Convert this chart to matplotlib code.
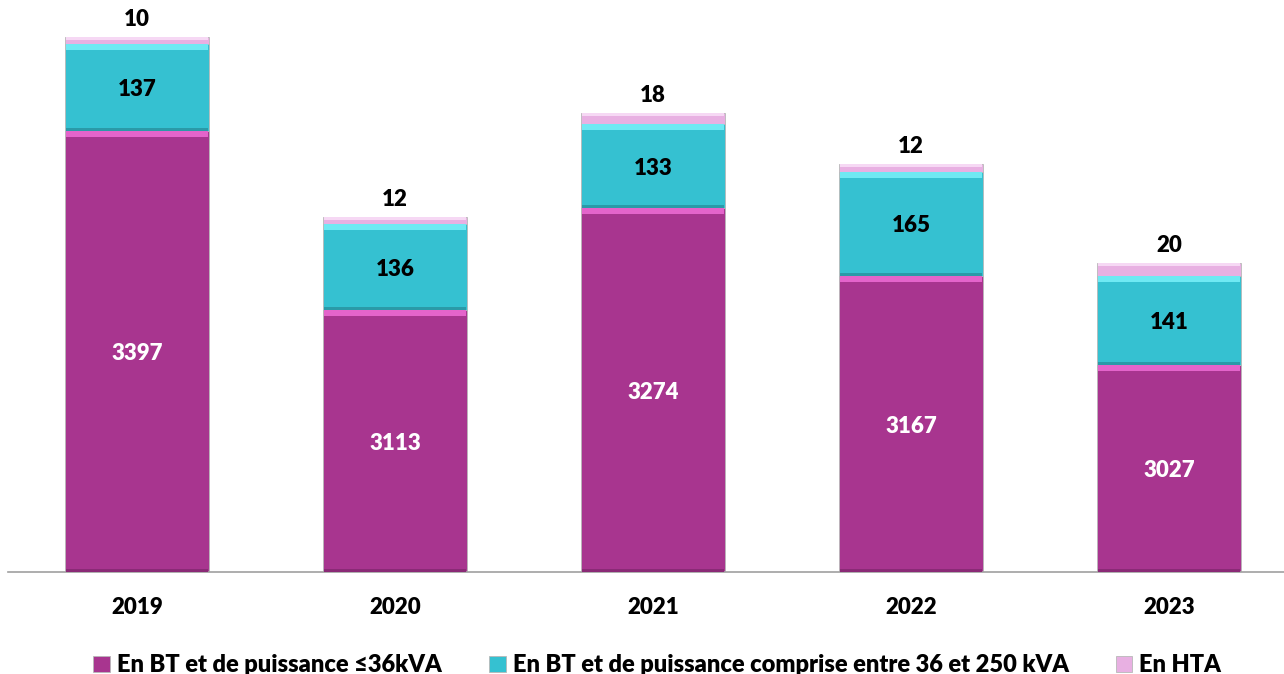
import matplotlib.pyplot as plt
import numpy as np

plt.rcParams['font.family'] = ['Lato', 'DejaVu Sans']
plt.rcParams['font.weight'] = 'heavy'

years = ['2019', '2020', '2021', '2022', '2023']
bt_36 = [3397, 3113, 3274, 3167, 3027]
bt_250 = [137, 136, 133, 165, 141]
hta = [10, 12, 18, 12, 20]

labels = ['En BT et de puissance ≤36kVA',
          'En BT et de puissance comprise entre 36 et 250 kVA',
          'En HTA']
colors = ['#A8358F', '#35C1D1', '#E8B0E2']
light = ['#E464CB', '#6FE9F3', '#F6D8F4']
dark = ['#8A2A76', '#2A9AA8', '#C892C3']

fig = plt.figure(figsize=(12.84, 6.74), dpi=100)
ax = fig.add_axes([8 / 1284, 102 / 674, 1276 / 1284, 570 / 674])

x = np.arange(len(years))
w = 0.56
ymin, ymax = 2700, 3600
px = (ymax - ymin) / 570  # data units per pixel

handles = []
bottoms = np.full(len(years), float(ymin))
for i, vals in enumerate([bt_36, bt_250, hta]):
    vals = np.array(vals, dtype=float)
    base = bottoms.copy()
    if i == 0:
        heights = vals - ymin
        tops = vals.copy()
    else:
        heights = vals
        tops = base + vals
    bars = ax.bar(x, heights, w, bottom=base, color=colors[i], edgecolor='#B8B8B8',
                  linewidth=0.6, label=labels[i], zorder=2)
    handles.append(bars)
    # bevel: light strip on top, dark strip at bottom
    hi = 3 * px if i == 2 else 6 * px
    ax.bar(x, [hi] * len(x), w * 0.985, bottom=tops - hi, color=light[i],
           linewidth=0, zorder=3)
    if i < 2:
        ax.bar(x, [3 * px] * len(x), w * 0.985, bottom=base, color=dark[i],
               linewidth=0, zorder=3)
    bottoms = tops

    for xi, b, t, v in zip(x, base, tops, vals):
        if i == 0:
            ax.text(xi, (b + t) / 2, str(int(v)), ha='center', va='center_baseline',
                    color='white', fontsize=16, fontweight='heavy', zorder=4)
        elif i == 1:
            ax.text(xi, (b + t) / 2, str(int(v)), ha='center', va='center_baseline',
                    color='black', fontsize=16, fontweight='heavy', zorder=4)
        else:
            ax.text(xi, t + 7 * px, str(int(v)), ha='center', va='bottom',
                    color='black', fontsize=16, fontweight='heavy', zorder=4)

ax.set_ylim(ymin, ymax)
ax.set_xlim(-0.5, 4.446)
ax.set_yticks([])
ax.set_xticks(x)
ax.set_xticklabels(years, fontsize=16, fontweight='heavy')
ax.tick_params(axis='x', length=0, pad=18)
for s in ['top', 'right', 'left']:
    ax.spines[s].set_visible(False)
ax.spines['bottom'].set_color('#A0A0A0')
ax.spines['bottom'].set_linewidth(1.2)

fig.legend(handles=handles, labels=labels, loc='lower center', ncol=3,
           frameon=False, bbox_to_anchor=(0.512, -0.035),
           prop={'size': 17, 'weight': 'heavy'}, handlelength=0.7,
           handleheight=0.7, handletextpad=0.3, columnspacing=2.0)

fig.savefig('out.png', dpi=100)
